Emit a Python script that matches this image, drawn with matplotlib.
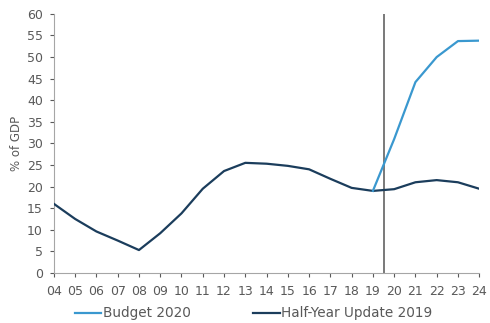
import numpy as np
import matplotlib.pyplot as plt

years = ['04', '05', '06', '07', '08', '09', '10', '11', '12', '13', '14',
         '15', '16', '17', '18', '19', '20', '21', '22', '23', '24']
half_year_2019 = [16.0, 12.5, 9.6, 7.5, 5.3, 9.2, 13.8, 19.5, 23.6, 25.5, 25.3,
                  24.8, 24.0, 21.8, 19.7, 19.0, 19.4, 21.0, 21.5, 21.0, 19.5]
budget_years = ['19', '20', '21', '22', '23', '24']
budget_2020 = [19.0, 31.0, 44.2, 50.0, 53.7, 53.8]
split_pos = 15.5  # between 19 and 20

x = np.arange(len(years))
xb = np.array([years.index(y) for y in budget_years])

fig = plt.figure(figsize=(4.9, 3.23), dpi=100)
ax = fig.add_axes([0.110, 0.155, 0.868, 0.802])

ax.plot(x, half_year_2019, color='#1b3d5c', lw=1.6, label='Half-Year Update 2019', zorder=3)
ax.plot(xb, budget_2020, color='#3a98cf', lw=1.6, label='Budget 2020', zorder=4)
ax.axvline(split_pos, ymin=0, ymax=1, color='#555555', lw=1.1, zorder=2)

ax.set_xlim(0, len(years) - 1)
ax.set_ylim(0, 60)
ax.set_xticks(x)
ax.set_xticklabels(years)
ax.set_yticks(np.arange(0, 61, 5))
ax.tick_params(colors='#595959', labelsize=9, length=3, width=0.8)
ax.tick_params(axis='x', pad=6)
ax.tick_params(axis='y', pad=5)
ax.set_ylabel('% of GDP', fontsize=8.5, color='#595959', labelpad=3)

for s in ['top', 'right']:
    ax.spines[s].set_visible(False)
for s in ['left', 'bottom']:
    ax.spines[s].set_color('#a6a6a6')
    ax.spines[s].set_linewidth(0.8)

h, l = ax.get_legend_handles_labels()
fig.legend(h[::-1], l[::-1], loc='lower left', ncol=2, frameon=False,
           fontsize=9.8, bbox_to_anchor=(0.147, 0.0), borderpad=0.2,
           borderaxespad=0, handlelength=1.95, handletextpad=0.1,
           columnspacing=4.6, labelcolor='#595959')

fig.savefig('out.png', dpi=100)
